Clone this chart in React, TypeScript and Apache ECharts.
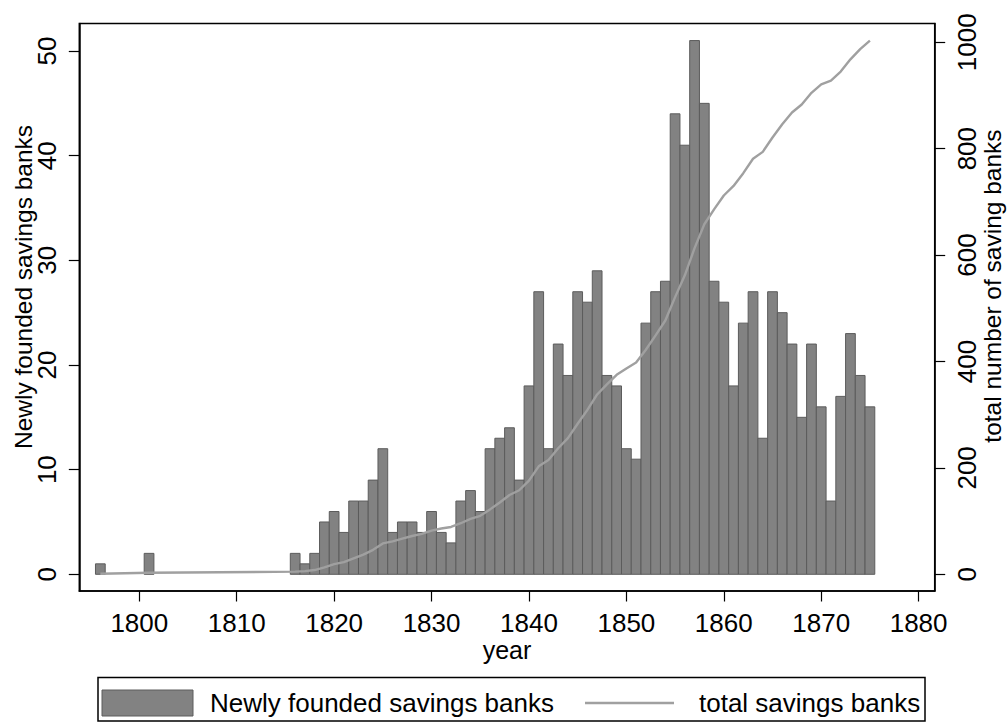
import React, { useEffect, useRef } from "react";
import * as echarts from "echarts";

const years = [
  1796, 1801,
  1816, 1817, 1818, 1819, 1820, 1821, 1822, 1823, 1824, 1825,
  1826, 1827, 1828, 1829, 1830, 1831, 1832, 1833, 1834, 1835,
  1836, 1837, 1838, 1839, 1840, 1841, 1842, 1843, 1844, 1845,
  1846, 1847, 1848, 1849, 1850, 1851, 1852, 1853, 1854, 1855,
  1856, 1857, 1858, 1859, 1860, 1861, 1862, 1863, 1864, 1865,
  1866, 1867, 1868, 1869, 1870, 1871, 1872, 1873, 1874, 1875,
];

const newBanks = [
  1, 2,
  2, 1, 2, 5, 6, 4, 7, 7, 9, 12,
  4, 5, 5, 4, 6, 4, 3, 7, 8, 6,
  12, 13, 14, 9, 18, 27, 12, 22, 19, 27,
  26, 29, 19, 18, 12, 11, 24, 27, 28, 44,
  41, 51, 45, 28, 26, 18, 24, 27, 13, 27,
  25, 22, 15, 22, 16, 7, 17, 23, 19, 16,
];

const totalBanks = [
  1, 3,
  5, 6, 8, 13, 19, 23, 30, 37, 46, 58,
  62, 67, 72, 76, 82, 86, 89, 96, 104, 110,
  122, 135, 149, 158, 176, 203, 215, 237, 256, 283,
  309, 338, 357, 375, 387, 398, 422, 449, 477, 521,
  562, 613, 658, 686, 712, 730, 754, 781, 794, 821,
  846, 868, 883, 905, 921, 928, 945, 968, 987, 1003,
];

const xTicks = [1800, 1810, 1820, 1830, 1840, 1850, 1860, 1870, 1880];
const leftTicks = [0, 10, 20, 30, 40, 50];
const rightTicks = [0, 200, 400, 600, 800, 1000];

const FONT = "'Liberation Sans', Arial, Helvetica, sans-serif";
const BAR_FILL = "#828282";
const BAR_EDGE = "#5c5c5c";
const LINE_COLOR = "#a0a0a0";

export default function App() {
  const ref = useRef<HTMLDivElement>(null);

  useEffect(() => {
    if (!ref.current) return;
    const chart = echarts.init(ref.current, undefined, { renderer: "svg" });

    const barData = years.map((y, i) => [y, newBanks[i]]);
    const lineData = years.map((y, i) => [y, totalBanks[i]]);

    const tickLabel = {
      color: "#000",
      fontSize: 26,
      fontFamily: FONT,
      formatter: (v: number) => String(v),
    };

    const option: any = {
      animation: false,
      backgroundColor: "#fff",
      grid: {
        left: 79.3,
        right: 73.3,
        top: 23.5,
        bottom: 134,
        show: true,
        borderColor: "#000",
        borderWidth: 1.5,
        backgroundColor: "transparent",
      },
      xAxis: {
        type: "value",
        min: 1793.84,
        max: 1881.65,
        axisLine: { onZero: false, lineStyle: { color: "#000", width: 1.5 } },
        axisTick: { customValues: xTicks, length: 10.5, lineStyle: { color: "#000", width: 1.2 } },
        axisLabel: { ...tickLabel, customValues: xTicks, margin: 19 },
        splitLine: { show: false },
      },
      yAxis: [
        {
          type: "value",
          position: "left",
          min: -1.596,
          max: 52.63,
          axisLine: { show: true, onZero: false, lineStyle: { color: "#000", width: 1.5 } },
          axisTick: { show: true, customValues: leftTicks, length: 10.5, lineStyle: { color: "#000", width: 1.2 } },
          axisLabel: { ...tickLabel, customValues: leftTicks, rotate: 90, margin: 19 },
          splitLine: { show: false },
        },
        {
          type: "value",
          position: "right",
          min: -31.39,
          max: 1035.3,
          axisLine: { show: true, onZero: false, lineStyle: { color: "#000", width: 1.5 } },
          axisTick: { show: true, customValues: rightTicks, length: 10.5, lineStyle: { color: "#000", width: 1.2 } },
          axisLabel: { ...tickLabel, customValues: rightTicks, rotate: 90, margin: 19 },
          splitLine: { show: false },
        },
      ],
      series: [
        {
          name: "Newly founded savings banks",
          type: "custom",
          xAxisIndex: 0,
          yAxisIndex: 0,
          encode: { x: 0, y: 1 },
          data: barData,
          z: 2,
          renderItem: (params: any, api: any) => {
            const yr = api.value(0);
            const v = api.value(1);
            const p0 = api.coord([yr - 0.5, v]);
            const p1 = api.coord([yr + 0.5, 0]);
            return {
              type: "rect",
              shape: { x: p0[0], y: p0[1], width: p1[0] - p0[0], height: p1[1] - p0[1] },
              style: { fill: BAR_FILL, stroke: BAR_EDGE, lineWidth: 1 },
            };
          },
        },
        {
          name: "total savings banks",
          type: "line",
          xAxisIndex: 0,
          yAxisIndex: 1,
          data: lineData,
          showSymbol: false,
          symbol: "none",
          z: 3,
          lineStyle: { color: LINE_COLOR, width: 2.4 },
        },
      ],
      graphic: [
        {
          type: "text",
          x: 23,
          y: 287,
          rotation: Math.PI / 2,
          style: {
            text: "Newly founded savings banks",
            fontSize: 24.5,
            fontFamily: FONT,
            fill: "#000",
            align: "center",
            verticalAlign: "middle",
          },
        },
        {
          type: "text",
          x: 992,
          y: 286,
          rotation: Math.PI / 2,
          style: {
            text: "total number of saving banks",
            fontSize: 24.5,
            fontFamily: FONT,
            fill: "#000",
            align: "center",
            verticalAlign: "middle",
          },
        },
        {
          type: "text",
          x: 507,
          y: 650,
          style: {
            text: "year",
            fontSize: 25,
            fontFamily: FONT,
            fill: "#000",
            align: "center",
            verticalAlign: "middle",
          },
        },
        {
          type: "rect",
          shape: { x: 98, y: 677.5, width: 827, height: 43.5 },
          style: { fill: "#fff", stroke: "#000", lineWidth: 1.5 },
        },
        {
          type: "rect",
          shape: { x: 102, y: 690, width: 91, height: 26 },
          style: { fill: BAR_FILL, stroke: BAR_EDGE, lineWidth: 1 },
        },
        {
          type: "text",
          x: 210,
          y: 703,
          style: {
            text: "Newly founded savings banks",
            fontSize: 26,
            fontFamily: FONT,
            fill: "#000",
            align: "left",
            verticalAlign: "middle",
          },
        },
        {
          type: "line",
          shape: { x1: 585, y1: 703, x2: 674, y2: 703 },
          style: { stroke: LINE_COLOR, lineWidth: 2.4 },
        },
        {
          type: "text",
          x: 699,
          y: 703,
          style: {
            text: "total savings banks",
            fontSize: 26,
            fontFamily: FONT,
            fill: "#000",
            align: "left",
            verticalAlign: "middle",
          },
        },
      ],
    };

    chart.setOption(option);
    return () => {
      chart.dispose();
    };
  }, []);

  return (
    <div
      ref={ref}
      style={{ position: "absolute", left: 0, top: 0, width: 1008, height: 725, background: "#fff" }}
    />
  );
}
